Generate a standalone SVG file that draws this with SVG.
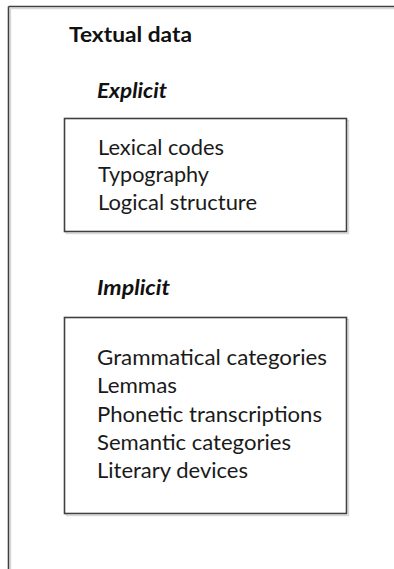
<svg xmlns="http://www.w3.org/2000/svg" width="394" height="569" viewBox="0 0 394 569">
  <style>
    .frame { fill: #ffffff; stroke: #404040; stroke-width: 1.6; }
    .shade { fill: none; stroke: #d8d8d8; stroke-width: 1.4; }
    .title { font-family: Lato, "Open Sans", "Liberation Sans", sans-serif; font-size: 21px; font-weight: bold; fill: #111111; }
    .head { font-family: Lato, "Open Sans", "Liberation Sans", sans-serif; font-size: 21px; font-weight: bold; font-style: italic; fill: #111111; }
    .item { font-family: Lato, "Open Sans", "Liberation Sans", sans-serif; font-size: 21px; fill: #1a1a1a; }
  </style>
  <rect width="394" height="569" fill="#ffffff"/>

  <!-- outer container, open to the right and bottom -->
  <g id="textual-data">
    <path class="shade" d="M10.5 8.5 H394 M10.5 8.5 V569"/>
    <path class="frame" d="M8.5 6.5 H394 M8.5 6.5 V569" fill="none"/>
    <text class="title" x="69" y="42" textLength="123" lengthAdjust="spacingAndGlyphs">Textual data</text>
  </g>

  <g id="explicit">
    <text class="head" x="97" y="98" textLength="70" lengthAdjust="spacingAndGlyphs">Explicit</text>
    <rect class="shade" x="66.5" y="120.5" width="282" height="113"/>
    <rect class="frame" x="64.5" y="118.5" width="282" height="113"/>
    <text class="item" x="98" y="155" textLength="126" lengthAdjust="spacingAndGlyphs">Lexical codes</text>
    <text class="item" x="98" y="182" textLength="111" lengthAdjust="spacingAndGlyphs">Typography</text>
    <text class="item" x="98" y="210" textLength="159" lengthAdjust="spacingAndGlyphs">Logical structure</text>
  </g>

  <g id="implicit">
    <text class="head" x="97" y="295" textLength="73" lengthAdjust="spacingAndGlyphs">Implicit</text>
    <rect class="shade" x="66.5" y="319.5" width="282" height="196"/>
    <rect class="frame" x="64.5" y="317.5" width="282" height="196"/>
    <text class="item" x="97" y="365" textLength="230" lengthAdjust="spacingAndGlyphs">Grammatical categories</text>
    <text class="item" x="97" y="393" textLength="80" lengthAdjust="spacingAndGlyphs">Lemmas</text>
    <text class="item" x="97" y="422" textLength="225" lengthAdjust="spacingAndGlyphs">Phonetic transcriptions</text>
    <text class="item" x="97" y="450" textLength="194" lengthAdjust="spacingAndGlyphs">Semantic categories</text>
    <text class="item" x="97" y="478" textLength="151" lengthAdjust="spacingAndGlyphs">Literary devices</text>
  </g>
</svg>
